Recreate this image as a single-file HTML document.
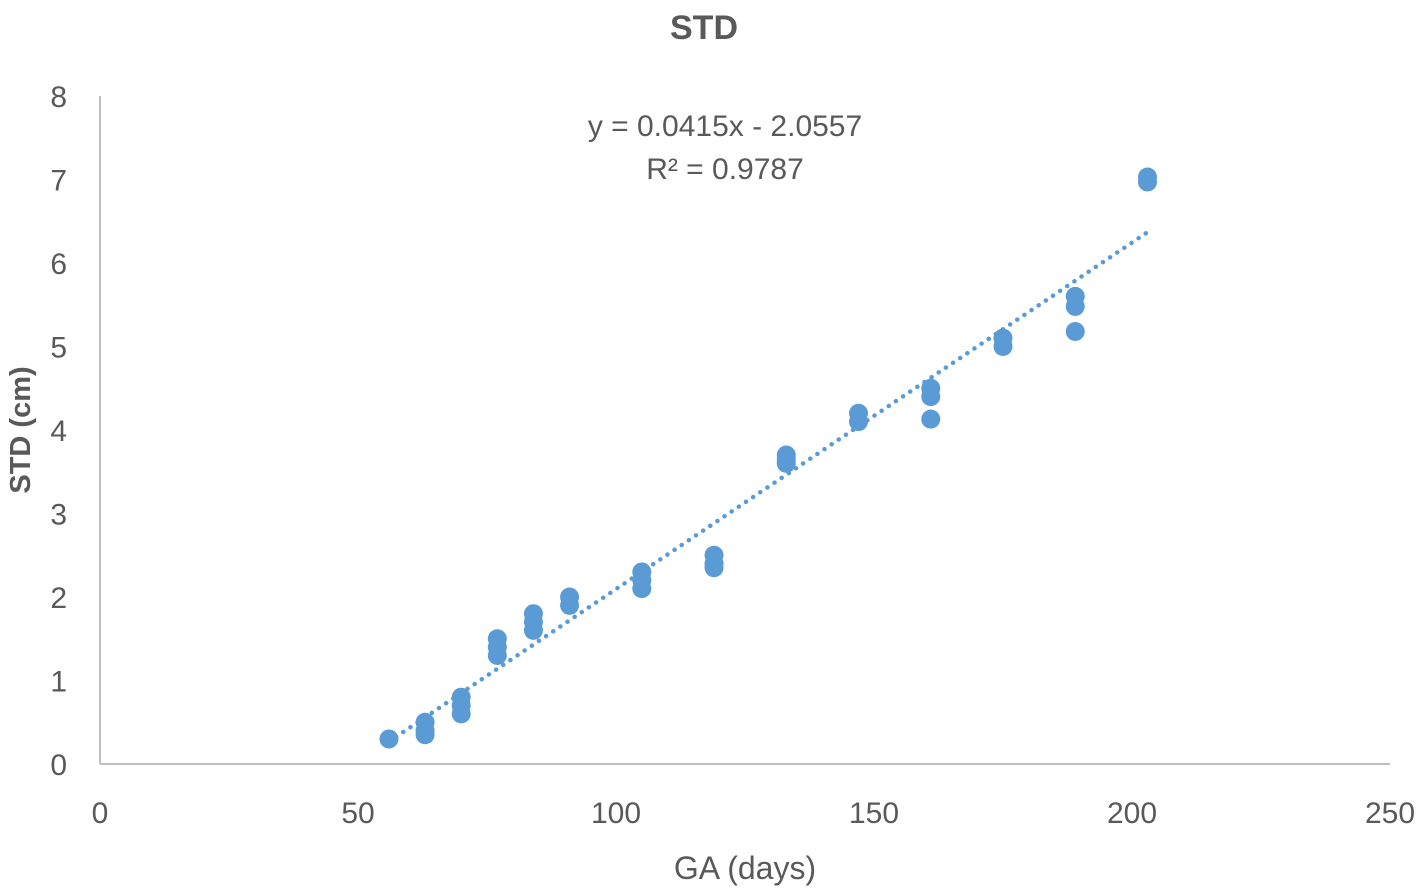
<!DOCTYPE html>
<html><head><meta charset="utf-8"><style>
body{margin:0;background:#fff;}
svg{display:block;font-family:"Liberation Sans",sans-serif;}
</style></head><body>
<svg id="chart" width="1421" height="892">
<text x="704" y="39" text-anchor="middle" font-size="34" font-weight="bold" fill="#595959">STD</text>
<text transform="translate(30,430) rotate(-90)" text-anchor="middle" font-size="29" font-weight="bold" fill="#595959">STD (cm)</text>
<text x="745" y="879" text-anchor="middle" font-size="32" fill="#595959">GA (days)</text>
<text x="725" y="136" text-anchor="middle" font-size="30" fill="#595959">y = 0.0415x - 2.0557</text>
<text x="725" y="179" text-anchor="middle" font-size="30" fill="#595959">R² = 0.9787</text>
<g id="axes"></g><g id="trend"></g><g id="points"></g>
</svg>
<script>
const xTicks=[0,50,100,150,200,250];
const yTicks=[0,1,2,3,4,5,6,7,8];
const gaDays=[56,63,63,63,70,70,70,77,77,77,84,84,84,91,91,105,105,105,119,119,119,133,133,133,147,147,161,161,161,175,175,189,189,189,203,203];
const stdCm=[0.3,0.5,0.4,0.35,0.8,0.7,0.6,1.5,1.4,1.3,1.8,1.7,1.6,2.0,1.9,2.3,2.2,2.1,2.5,2.4,2.35,3.7,3.65,3.6,4.2,4.1,4.5,4.4,4.13,5.1,5.0,5.6,5.48,5.18,7.03,6.97];
const slope=0.0415, intercept=-2.0557;
const X0=100,X1=1390,Y0=764,Y1=96;
const sx=v=>X0+(v-0)/250*(X1-X0);
const sy=v=>Y0-(v-0)/8*(Y0-Y1);
const NS="http://www.w3.org/2000/svg";
function mk(tag,attrs,parent){const e=document.createElementNS(NS,tag);for(const k in attrs)e.setAttribute(k,attrs[k]);parent.appendChild(e);return e;}
const axes=document.getElementById('axes');
let a=mk('line',{x1:X0,y1:Y0,x2:X1,y2:Y0,stroke:'#bfbfbf','stroke-width':2},axes);


a=mk('line',{x1:X0,y1:Y0,x2:X0,y2:Y1,stroke:'#bfbfbf','stroke-width':2},axes);


xTicks.forEach(t=>{const e=mk('text',{x:sx(t),y:823,'text-anchor':'middle','font-size':30,fill:'#595959'},axes);e.textContent=t;

});
yTicks.forEach(t=>{const e=mk('text',{x:67,y:sy(t)+11,'text-anchor':'end','font-size':30,fill:'#595959'},axes);e.textContent=t;

});
const xmin=Math.min(...gaDays),xmax=Math.max(...gaDays);
const tl=mk('line',{x1:sx(xmin),y1:sy(slope*xmin+intercept),x2:sx(xmax),y2:sy(slope*xmax+intercept),stroke:'#5b9bd5','stroke-width':4.5,'stroke-dasharray':'0.1 8.5','stroke-linecap':'round'},document.getElementById('trend'));


const pg=document.getElementById('points');
gaDays.forEach((d,i)=>{const c=mk('circle',{cx:sx(d),cy:sy(stdCm[i]),r:9.5,fill:'#5b9bd5'},pg);

});
</script>
</body></html>
